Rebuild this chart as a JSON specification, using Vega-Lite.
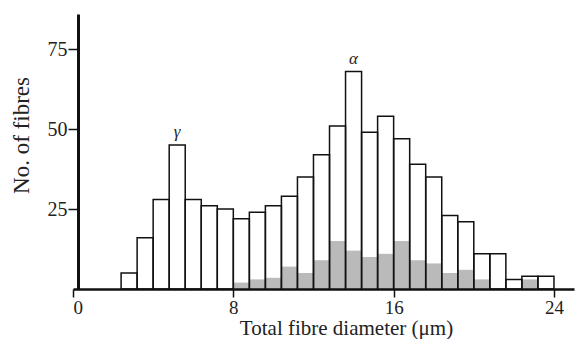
{
  "$schema": "https://vega.github.io/schema/vega-lite/v6.json",
  "width": 501,
  "height": 275,
  "autosize": "none",
  "padding": {"left": 73, "top": 14, "right": 7, "bottom": 50},
  "background": "white",
  "config": {"view": {"stroke": null}, "font": "Liberation Serif"},
  "data": {
    "values": [
      {"x0": 2.4, "x1": 3.2, "n": 5, "s": 0},
      {"x0": 3.2, "x1": 4.0, "n": 16, "s": 0},
      {"x0": 4.0, "x1": 4.8, "n": 28, "s": 0},
      {"x0": 4.8, "x1": 5.6, "n": 45, "s": 0, "peak": "γ"},
      {"x0": 5.6, "x1": 6.4, "n": 28, "s": 0},
      {"x0": 6.4, "x1": 7.2, "n": 26, "s": 0},
      {"x0": 7.2, "x1": 8.0, "n": 25, "s": 0},
      {"x0": 8.0, "x1": 8.8, "n": 22, "s": 2},
      {"x0": 8.8, "x1": 9.6, "n": 24, "s": 3},
      {"x0": 9.6, "x1": 10.4, "n": 26, "s": 3.5},
      {"x0": 10.4, "x1": 11.2, "n": 29, "s": 7},
      {"x0": 11.2, "x1": 12.0, "n": 35, "s": 5},
      {"x0": 12.0, "x1": 12.8, "n": 42, "s": 9},
      {"x0": 12.8, "x1": 13.6, "n": 51, "s": 15},
      {"x0": 13.6, "x1": 14.4, "n": 68, "s": 12, "peak": "α"},
      {"x0": 14.4, "x1": 15.2, "n": 49, "s": 10},
      {"x0": 15.2, "x1": 16.0, "n": 54, "s": 11},
      {"x0": 16.0, "x1": 16.8, "n": 47, "s": 15},
      {"x0": 16.8, "x1": 17.6, "n": 39, "s": 9},
      {"x0": 17.6, "x1": 18.4, "n": 35, "s": 8},
      {"x0": 18.4, "x1": 19.2, "n": 23, "s": 5},
      {"x0": 19.2, "x1": 20.0, "n": 21, "s": 6},
      {"x0": 20.0, "x1": 20.8, "n": 11, "s": 3},
      {"x0": 20.8, "x1": 21.6, "n": 11, "s": 0},
      {"x0": 21.6, "x1": 22.4, "n": 3, "s": 0},
      {"x0": 22.4, "x1": 23.2, "n": 4, "s": 3},
      {"x0": 23.2, "x1": 24.0, "n": 4, "s": 0}
    ]
  },
  "encoding": {
    "x": {
      "field": "x0",
      "type": "quantitative",
      "scale": {"domain": [0, 25], "nice": false, "zero": false},
      "axis": {
        "values": [0, 8, 16, 24],
        "grid": false,
        "tickSize": 8,
        "tickWidth": 1.5,
        "tickColor": "#111",
        "domainColor": "#111",
        "domainWidth": 2.5,
        "labelPadding": 1,
        "labelFontSize": 19,
        "labelColor": "#222",
        "labelFont": "Liberation Serif",
        "title": "Total fibre diameter (μm)",
        "titleFont": "Liberation Serif",
        "titleFontSize": 21,
        "titleFontWeight": "normal",
        "titleColor": "#222",
        "titleX": 273,
        "titleY": 45,
        "titleBaseline": "alphabetic"
      }
    }
  },
  "layer": [
    {
      "mark": {"type": "bar", "color": "#bababa", "strokeWidth": 0},
      "encoding": {
        "x2": {"field": "x1"},
        "y": {
          "field": "s",
          "type": "quantitative",
          "scale": {"domain": [0, 86], "nice": false},
          "axis": {
            "values": [25, 50, 75],
            "grid": false,
            "offset": -5,
            "tickSize": 10,
            "tickWidth": 1.5,
            "tickColor": "#111",
            "domainColor": "#111",
            "domainWidth": 3,
            "labelPadding": 1,
            "labelFontSize": 20,
            "labelColor": "#222",
            "labelFont": "Liberation Serif",
            "title": "No. of fibres",
            "titleFont": "Liberation Serif",
            "titleFontSize": 23,
            "titleFontWeight": "normal",
            "titleColor": "#222",
            "titleX": -50,
            "titleY": 121,
            "titleBaseline": "alphabetic"
          }
        },
        "y2": {"datum": 0}
      }
    },
    {
      "mark": {"type": "bar", "fill": "white", "fillOpacity": 0, "stroke": "#111", "strokeWidth": 1.5},
      "encoding": {
        "x2": {"field": "x1"},
        "y": {"field": "n", "type": "quantitative", "scale": {"domain": [0, 86], "nice": false}},
        "y2": {"datum": 0}
      }
    },
    {
      "transform": [{"filter": "datum.peak"}],
      "mark": {"type": "text", "font": "Liberation Serif", "fontStyle": "italic", "fontSize": 17, "color": "#222", "dx": 8, "dy": -8, "baseline": "alphabetic", "align": "center"},
      "encoding": {
        "y": {"field": "n", "type": "quantitative", "scale": {"domain": [0, 86], "nice": false}},
        "text": {"field": "peak"}
      }
    }
  ]
}
